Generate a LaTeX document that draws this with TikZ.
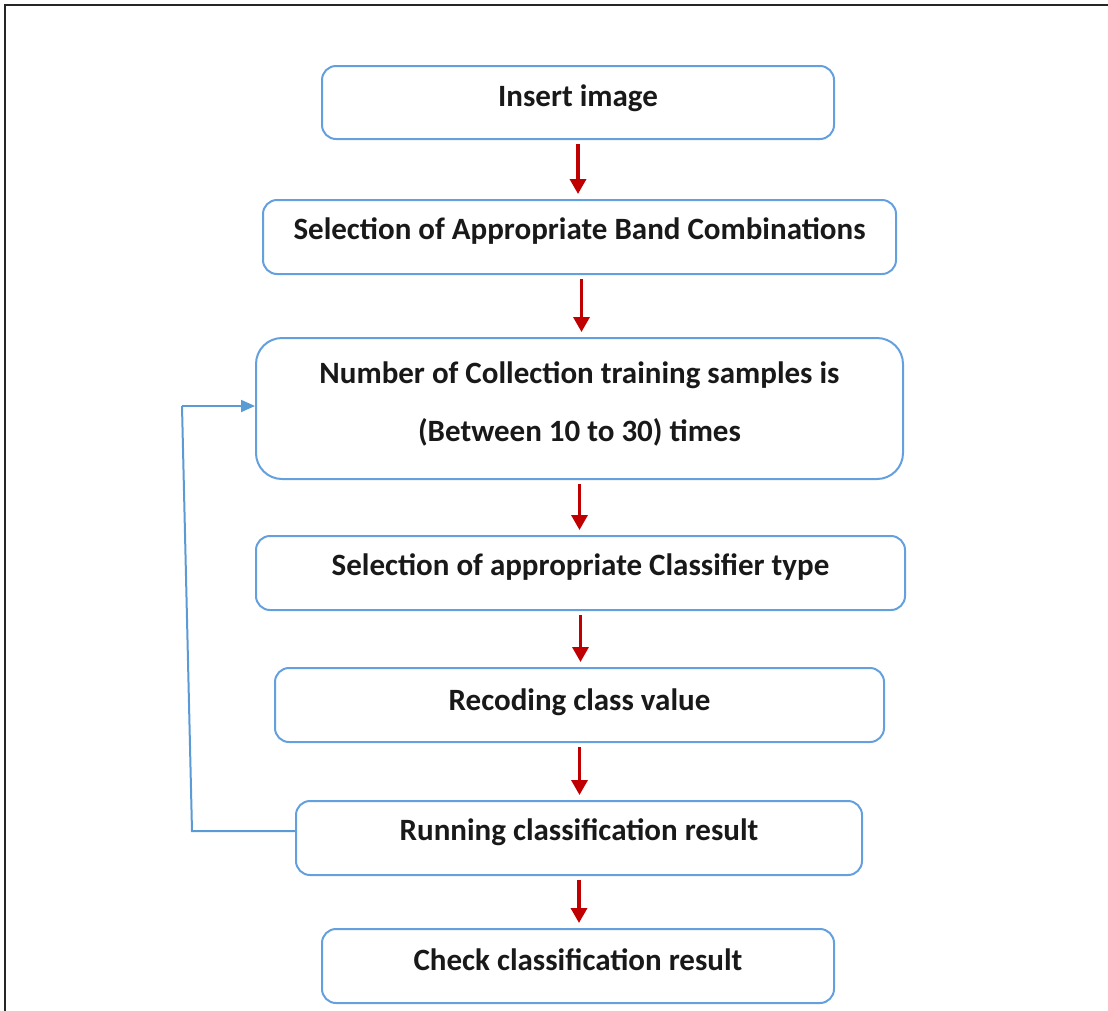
\documentclass[tikz,border=0pt]{standalone}
\usepackage{fontspec}
\setmainfont{Carlito}
\usetikzlibrary{arrows.meta}
\definecolor{boxblue}{RGB}{100,160,222}
\definecolor{lineblue}{RGB}{91,155,213}
\definecolor{arrred}{RGB}{192,0,0}
\tikzset{
  stepbox/.style={draw=boxblue, line width=2pt, rounded corners=14pt, fill=white,
    inner sep=0pt, font=\fontsize{31}{36}\selectfont\bfseries, text=black!90,
    text height=15pt, text depth=11pt},
  flowarrow/.style={draw=arrred, line width=3.4pt, -{Triangle[width=16pt,length=15pt]},
    shorten <=4pt, shorten >=5pt},
  backline/.style={draw=lineblue, line width=2pt}
}
\begin{document}
\begin{tikzpicture}[x=1pt,y=-1pt]
\useasboundingbox (0,0) rectangle (1108,1010);
\draw[line width=2.2pt, black!85] (5,1012) -- (5,5) -- (1110,5);

\node[stepbox, minimum width=512pt, minimum height=73pt, text height=17pt, text depth=9pt] (a) at (578,102.5) {Insert image};
\node[stepbox, minimum width=633pt, minimum height=74pt] (b) at (579.5,237) {Selection of Appropriate Band Combinations};
\node[stepbox, minimum width=647pt, minimum height=141pt, rounded corners=26pt,
  align=center, text height=, text depth=, font=\fontsize{31}{58}\selectfont\bfseries] (c) at (579.5,408.5)
  {Number of Collection training samples is\\(Between 10 to 30) times\rule[-14pt]{0pt}{1pt}};
\node[stepbox, minimum width=649pt, minimum height=74pt] (d) at (580.5,573) {Selection of appropriate Classifier type};
\node[stepbox, minimum width=609pt, minimum height=74pt, text height=18pt, text depth=8pt] (e) at (579.5,705) {Recoding class value};
\node[stepbox, minimum width=566pt, minimum height=74pt] (f) at (579,838) {Running classification result};
\node[stepbox, minimum width=512pt, minimum height=74pt, text height=17pt, text depth=9pt] (g) at (578,966) {Check classification result};

\draw[flowarrow] (a.south) -- (a.south |- b.north);
\draw[flowarrow] ([xshift=2pt]b.south) -- ([xshift=2pt]b.south |- c.north);
\draw[flowarrow] (c.south) -- (c.south |- d.north);
\draw[flowarrow] (d.south) -- (d.south |- e.north);
\draw[flowarrow] (e.south) -- (e.south |- f.north);
\draw[flowarrow] (f.south) -- (f.south |- g.north);

\coordinate (fb1) at (192,831);
\coordinate (fb2) at (182,406);
\draw[backline] (f.west |- fb1) -- (fb1) -- (fb2);
\draw[backline, -{Triangle[width=12pt,length=14pt]}] (fb2) -- (fb2 -| c.west);
\end{tikzpicture}
\end{document}
